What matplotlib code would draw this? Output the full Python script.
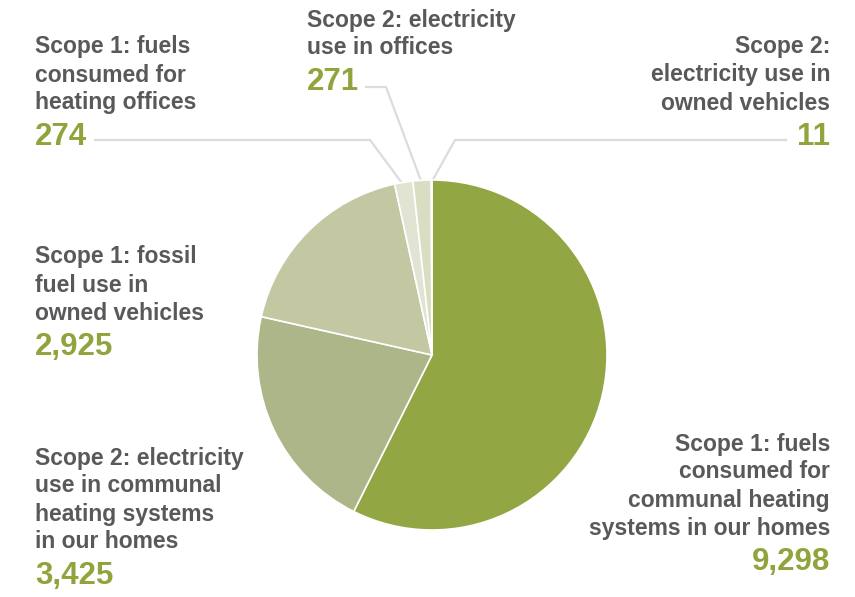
import numpy as np
import matplotlib
matplotlib.use("Agg")
import matplotlib.pyplot as plt

# emissions by source (tCO2e), clockwise from 12 o'clock
labels = [
    "Scope 1: fuels\nconsumed for\ncommunal heating\nsystems in our homes",
    "Scope 2: electricity\nuse in communal\nheating systems\nin our homes",
    "Scope 1: fossil\nfuel use in\nowned vehicles",
    "Scope 1: fuels\nconsumed for\nheating offices",
    "Scope 2: electricity\nuse in offices",
    "Scope 2:\nelectricity use in\nowned vehicles",
]
values = [9298, 3425, 2925, 274, 271, 11]
colors = ["#93a644", "#adb688", "#c3c8a2", "#e2e4d3", "#d9ddc2", "#eceedf"]

GREY = "#58595b"
GREEN = "#8fa43c"
LINE = "#dcdcdc"
FONT = "Liberation Sans"

W, H = 855, 597
fig = plt.figure(figsize=(W / 100, H / 100), dpi=100)
ax = fig.add_axes([0, 0, 1, 1])

# axes run in pixels with y pointing down, so angles are mirrored:
# start at -90 (12 o'clock on screen) and count "counter-clockwise"
cx, cy, R = 432, 355, 175
wedges, _ = ax.pie(values, colors=colors, startangle=-90, counterclock=True,
                   center=(cx, cy), radius=R, frame=True,
                   wedgeprops=dict(edgecolor="white", linewidth=1.2))
ax.set_xlim(0, W)
ax.set_ylim(H, 0)
ax.set_aspect("equal")
ax.axis("off")


def anchor(w, r=R):
    th = np.deg2rad((w.theta1 + w.theta2) / 2)
    return cx + r * np.cos(th), cy + r * np.sin(th)


# leader lines for the three thin slices at the top
ax_, ay_ = anchor(wedges[3], R - 4)
ax.plot([95, 370, ax_], [140, 140, ay_], color=LINE, lw=1.6, zorder=0)
bx, by = anchor(wedges[4], R - 4)
ax.plot([366, 386, bx], [87, 87, by], color=LINE, lw=1.6, zorder=0)
dx, dy = anchor(wedges[5], R - 2)
ax.plot([786, 455, dx], [140, 140, dy], color=LINE, lw=1.6, zorder=0)

# label blocks: x, centre of first line, alignment
spots = [
    (830, 444, "right"),
    (35, 458, "left"),
    (35, 257, "left"),
    (35, 47, "left"),
    (307, 20, "left"),
    (830, 47, "right"),
]
LH = 28
for (x, y0, ha), lab, v in zip(spots, labels, values):
    lines = lab.split("\n")
    for i, ln in enumerate(lines):
        ax.text(x, y0 + i * LH, ln, ha=ha, va="center", fontsize=16.5,
                fontweight="bold", color=GREY, family=FONT)
    ax.text(x, y0 + len(lines) * LH + 6, f"{v:,}", ha=ha, va="center",
            fontsize=22.5, fontweight="bold", color=GREEN, family=FONT)

fig.savefig("out.png", dpi=100)
